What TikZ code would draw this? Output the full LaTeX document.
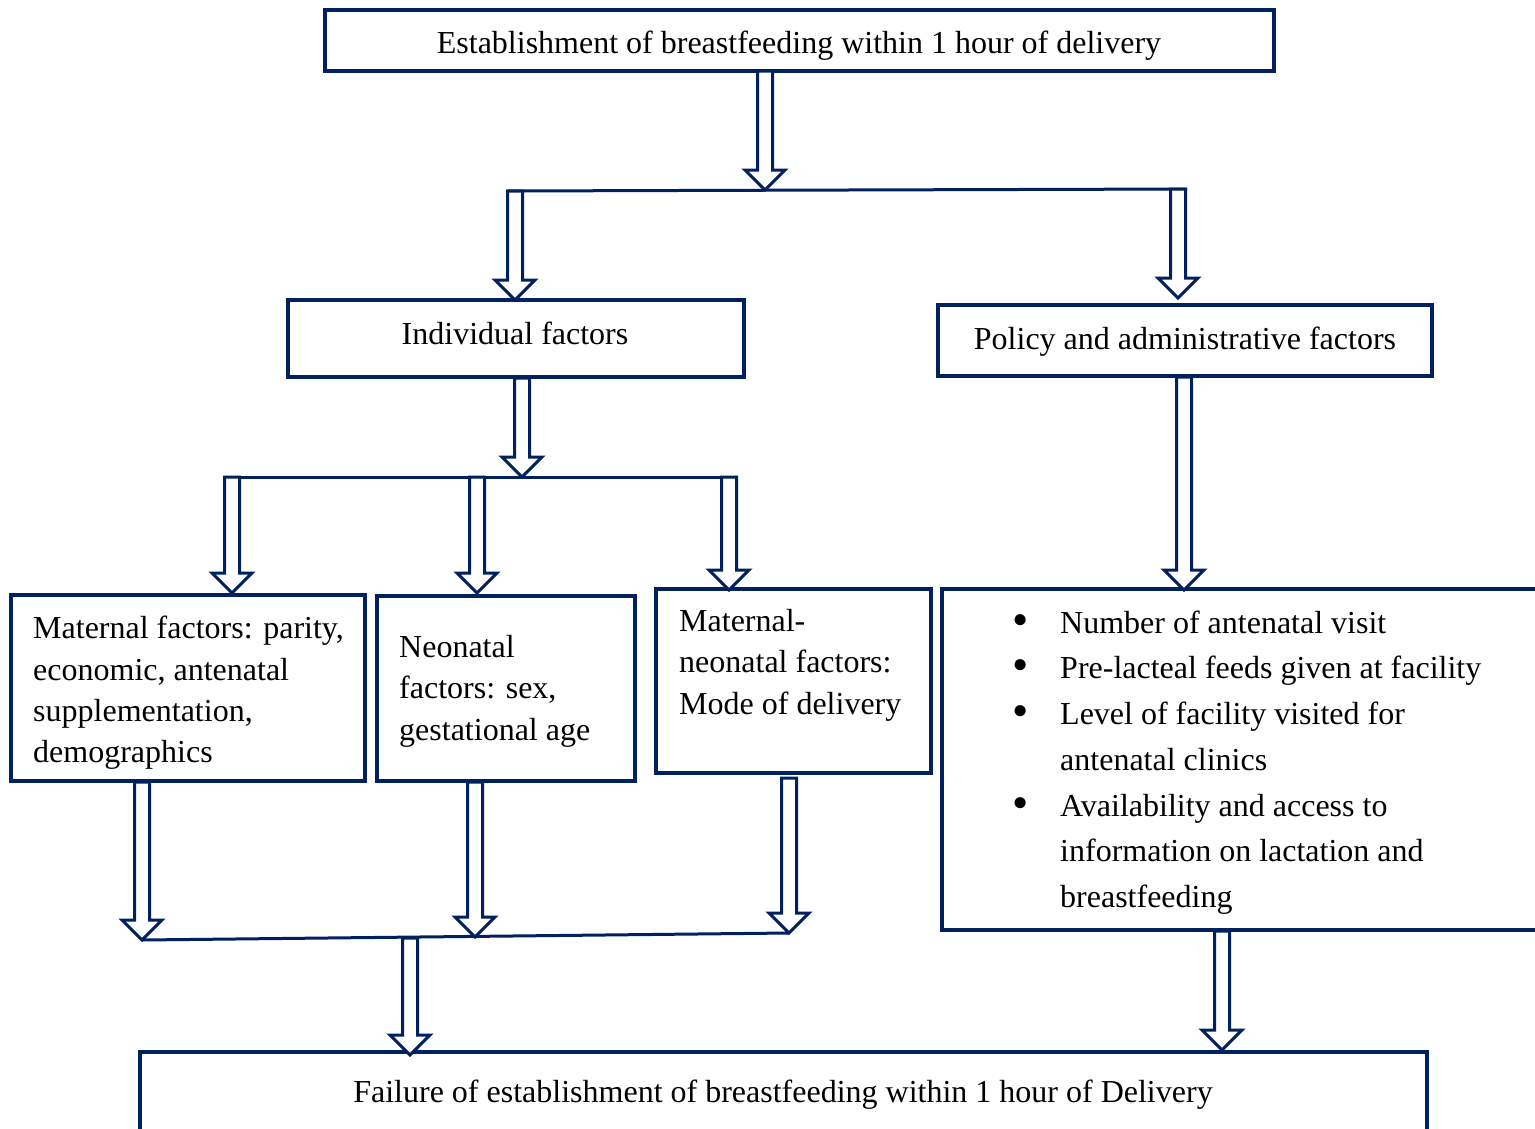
\documentclass[tikz,border=0pt]{standalone}
\usepackage{fontspec}
\setmainfont{Liberation Serif}
\usetikzlibrary{calc}
\definecolor{navy}{RGB}{0,32,96}

\newcommand{\bigbul}{\raisebox{-2pt}{\scalebox{1.45}{\textbullet}}}

\tikzset{
  box/.style={draw=navy, line width=3.5pt, anchor=north west, inner sep=0pt, outer sep=0pt},
  ln/.style={draw=navy, line width=3pt},
  txt/.style={inner sep=0pt, font=\fontsize{32}{41.3}\selectfont},
  blk/.style={draw=navy, line width=3pt, fill=white, line join=miter,
    to path={let \p1=(\tikztostart), \p2=(\tikztotarget) in
      ({\x1-7.5pt},\y1) -- ({\x1-7.5pt},{\y2+20pt}) -- ({\x1-20pt},{\y2+20pt})
      -- (\x1,\y2) -- ({\x1+20pt},{\y2+20pt}) -- ({\x1+7.5pt},{\y2+20pt})
      -- ({\x1+7.5pt},\y1) -- cycle}}
}

\begin{document}
\begin{tikzpicture}[x=1pt,y=-1pt]
  \useasboundingbox (0,0) rectangle (1535,1128);

  \node (est) [box, minimum width=949, minimum height=61] at (325,10) {};
  \node (ind) [box, minimum width=456, minimum height=77] at (288,300) {};
  \node (pol) [box, minimum width=494, minimum height=71] at (938,305) {};
  \node (mat) [box, minimum width=354, minimum height=186] at (11,595) {};
  \node (neo) [box, minimum width=258, minimum height=185] at (377,596) {};
  \node (mn) [box, minimum width=275, minimum height=184] at (656,589) {};
  \node (lst) [box, minimum width=640, minimum height=341] at (942,589) {};
  \node (fail) [box, minimum width=1287, minimum height=90] at (140,1052) {};

  \node (estt) [txt, anchor=base] at (799,53)
    {Establishment of breastfeeding within 1 hour of delivery};
  \node (indt) [txt, anchor=base] at (515,344) {Individual factors};
  \node (polt) [txt, anchor=base] at (1185,349) {Policy and administrative factors};
  \node (matt) [txt, anchor=north west, align=left] at (33,616)
    {Maternal factors: parity,\\economic, antenatal\\supplementation,\\demographics};
  \node (neot) [txt, anchor=north west, align=left] at (399,635)
    {Neonatal\\factors: sex,\\gestational age};
  \node (mnt) [txt, anchor=north west, align=left] at (679,609)
    {Maternal-\\neonatal factors:\\Mode of delivery};
  \node (lstt) [txt, anchor=north west, font=\fontsize{32}{45.7}\selectfont] at (1012,601)
    {\begin{tabular}{@{}p{48pt}@{}l@{}}
      \bigbul & Number of antenatal visit\\
      \bigbul & Pre-lacteal feeds given at facility\\
      \bigbul & Level of facility visited for\\
              & antenatal clinics\\
      \bigbul & Availability and access to\\
              & information on lactation and\\
              & breastfeeding
    \end{tabular}};
  \node (failt) [txt, anchor=base] at (783,1102)
    {Failure of establishment of breastfeeding within 1 hour of Delivery};

  \coordinate (sl) at (515,191);
  \coordinate (sm) at (765,190);
  \coordinate (sr) at (1178,189);
  \coordinate (tl) at (232,477);
  \coordinate (tc) at (522,477);
  \coordinate (tm) at (477,477);
  \coordinate (tr) at (729,477);
  \coordinate (ml) at (142,940);
  \coordinate (mc) at (475,937);
  \coordinate (mm) at (410,938);
  \coordinate (mr) at (789,933);

  \draw[ln] ([xshift=-9pt]sl) -- ([xshift=9pt]sr);
  \draw[ln] ([xshift=-8pt]tl) -- ([xshift=9pt]tr);
  \draw[ln] (ml) -- (mr);

  \path (node cs:name=est,anchor=south west) +(440,0) coordinate (esto);
  \path (node cs:name=ind,anchor=north) coordinate (indi);
  \path (node cs:name=pol,anchor=north west) +(240,-7) coordinate (poli);
  \path (node cs:name=ind,anchor=south) +(6,1) coordinate (indo);
  \path (node cs:name=pol,anchor=south west) +(246,1) coordinate (polo);
  \path (node cs:name=mat,anchor=north west) +(221,-2) coordinate (mati);
  \path (node cs:name=neo,anchor=north west) +(100,-3) coordinate (neoi);
  \path (node cs:name=mn,anchor=north west) +(73,1) coordinate (mni);
  \path (node cs:name=lst,anchor=north west) +(242,1) coordinate (lsti);
  \path (node cs:name=mat,anchor=south west) +(131,1) coordinate (mato);
  \path (node cs:name=neo,anchor=south west) +(98,1) coordinate (neoo);
  \path (node cs:name=mn,anchor=south west) +(133,5) coordinate (mno);
  \path (node cs:name=lst,anchor=south west) +(280,1) coordinate (lsto);
  \path (node cs:name=fail,anchor=north west) +(270,3) coordinate (faili);
  \path (node cs:name=fail,anchor=north west) +(1082,-2) coordinate (failj);

  \draw[blk] (esto) to (sm);
  \draw[blk] (sl) to (indi);
  \draw[blk] (sr) to (poli);
  \draw[blk] (indo) to (tc);
  \draw[blk] (tl) to (mati);
  \draw[blk] (tm) to (neoi);
  \draw[blk] (tr) to (mni);
  \draw[blk] (polo) to (lsti);
  \draw[blk] (mato) to (ml);
  \draw[blk] (neoo) to (mc);
  \draw[blk] (mno) to (mr);
  \draw[blk] (mm) to (faili);
  \draw[blk] (lsto) to (failj);
\end{tikzpicture}
\end{document}
